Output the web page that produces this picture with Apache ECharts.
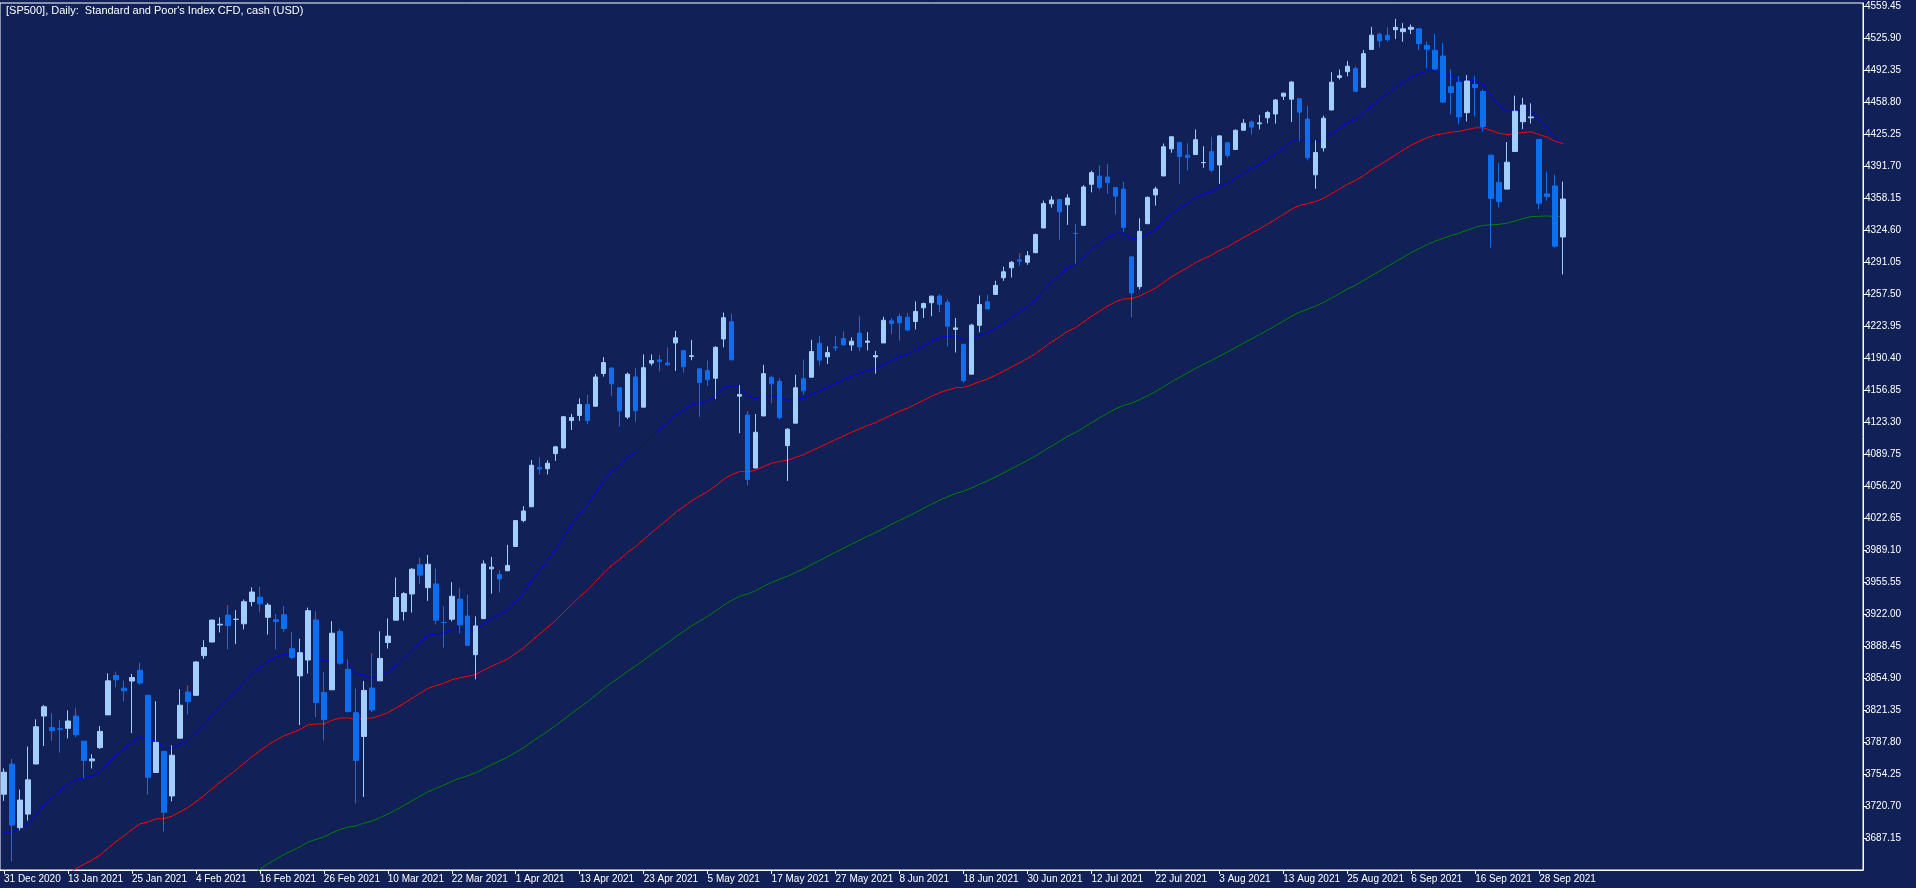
<!DOCTYPE html>
<html>
<head>
<meta charset="utf-8">
<script src="https://cdn.jsdelivr.net/npm/echarts@6/dist/echarts.min.js"></script>
<style>
html,body{margin:0;padding:0;background:#112056;}
#box{width:1916px;height:888px;}
</style>
</head>
<body>
<div id="box"></div>
<script>
// daily bars, Dec 31 2020 .. Oct 1 2021 (CFD also prints on US holidays)
var dates = ['2020-12-31','2021-01-04','2021-01-05','2021-01-06','2021-01-07','2021-01-08','2021-01-11','2021-01-12','2021-01-13','2021-01-14','2021-01-15','2021-01-18','2021-01-19','2021-01-20','2021-01-21','2021-01-22','2021-01-25','2021-01-26','2021-01-27','2021-01-28','2021-01-29',
'2021-02-01','2021-02-02','2021-02-03','2021-02-04','2021-02-05','2021-02-08','2021-02-09','2021-02-10','2021-02-11','2021-02-12','2021-02-15','2021-02-16','2021-02-17','2021-02-18','2021-02-19','2021-02-22','2021-02-23','2021-02-24','2021-02-25','2021-02-26',
'2021-03-01','2021-03-02','2021-03-03','2021-03-04','2021-03-05','2021-03-08','2021-03-09','2021-03-10','2021-03-11','2021-03-12','2021-03-15','2021-03-16','2021-03-17','2021-03-18','2021-03-19','2021-03-22','2021-03-23','2021-03-24','2021-03-25','2021-03-26','2021-03-29','2021-03-30','2021-03-31',
'2021-04-01','2021-04-02','2021-04-05','2021-04-06','2021-04-07','2021-04-08','2021-04-09','2021-04-12','2021-04-13','2021-04-14','2021-04-15','2021-04-16','2021-04-19','2021-04-20','2021-04-21','2021-04-22','2021-04-23','2021-04-26','2021-04-27','2021-04-28','2021-04-29','2021-04-30',
'2021-05-03','2021-05-04','2021-05-05','2021-05-06','2021-05-07','2021-05-10','2021-05-11','2021-05-12','2021-05-13','2021-05-14','2021-05-17','2021-05-18','2021-05-19','2021-05-20','2021-05-21','2021-05-24','2021-05-25','2021-05-26','2021-05-27','2021-05-28','2021-05-31',
'2021-06-01','2021-06-02','2021-06-03','2021-06-04','2021-06-07','2021-06-08','2021-06-09','2021-06-10','2021-06-11','2021-06-14','2021-06-15','2021-06-16','2021-06-17','2021-06-18','2021-06-21','2021-06-22','2021-06-23','2021-06-24','2021-06-25','2021-06-28','2021-06-29','2021-06-30',
'2021-07-01','2021-07-02','2021-07-05','2021-07-06','2021-07-07','2021-07-08','2021-07-09','2021-07-12','2021-07-13','2021-07-14','2021-07-15','2021-07-16','2021-07-19','2021-07-20','2021-07-21','2021-07-22','2021-07-23','2021-07-26','2021-07-27','2021-07-28','2021-07-29','2021-07-30',
'2021-08-02','2021-08-03','2021-08-04','2021-08-05','2021-08-06','2021-08-09','2021-08-10','2021-08-11','2021-08-12','2021-08-13','2021-08-16','2021-08-17','2021-08-18','2021-08-19','2021-08-20','2021-08-23','2021-08-24','2021-08-25','2021-08-26','2021-08-27','2021-08-30','2021-08-31',
'2021-09-01','2021-09-02','2021-09-03','2021-09-06','2021-09-07','2021-09-08','2021-09-09','2021-09-10','2021-09-13','2021-09-14','2021-09-15','2021-09-16','2021-09-17','2021-09-20','2021-09-21','2021-09-22','2021-09-23','2021-09-24','2021-09-27','2021-09-28','2021-09-29','2021-09-30','2021-10-01'];

var open = [3733,3764.6,3698,3712.2,3764.7,3815,3803,3801.6,3802.2,3815,3788.7,3768,3781.9,3816.2,3857.5,3844.2,3851.7,3863,3836.8,3755.8,3778,
3731.2,3791.8,3840.3,3836.7,3878.3,3892.6,3910.5,3920.8,3916.4,3911.7,3935,3939.6,3918.5,3915.9,3921.2,3885.6,3857.1,3873.7,3915.8,3839.7,
3842.5,3903.6,3864,3818.5,3793.6,3844.4,3851.9,3892,3915.5,3924.5,3943,3973.6,3949.6,3953.5,3913.1,3916.5,3937.6,3919.9,3879.3,3917.1,3969.3,3963.3,3967.3,
3992.8,4020,4034.4,4075.6,4074.3,4090,4096.1,4124.7,4130.1,4141.6,4139.8,4174.1,4179.8,4159.2,4128.4,4170.5,4138.8,4185,4188.3,4185.1,4206.1,4198.1,
4192,4179,4177.1,4169.1,4210.3,4228.3,4150.3,4130.6,4075,4129.6,4169.9,4165.9,4098.5,4122,4168.6,4170.2,4205.9,4191.6,4201.9,4210.8,4204,
4216.5,4206.8,4191.4,4206.1,4229.3,4233.8,4233,4228.6,4242.9,4248.3,4255.3,4248.9,4220.4,4204.8,4173.4,4224.6,4249.3,4257,4274.5,4284.9,4293.2,4290.7,
4300.7,4326.6,4352,4356.5,4351,4321.1,4329.4,4372.4,4381.1,4380.1,4369,4367.4,4296.4,4265.1,4331.1,4361.3,4381.2,4409.6,4416.4,4403,4403.6,4395.1,
4406.9,4392.7,4416,4408.9,4429.1,4437.8,4435.8,4442.2,4446.1,4464.8,4461.7,4462.1,4440.9,4382.4,4410.6,4450.3,4484.4,4490.5,4493.8,4474.1,4513.8,4529.8,
4528.8,4534.5,4532.4,4535,4535.4,4518.1,4513,4506.9,4474.8,4479.3,4447.5,4477.1,4469.7,4403,4374.5,4367.4,4406.8,4438,4442.1,4419.5,4362.4,4370.7,4317.2];

var high = [3760.2,3770,3737.8,3783,3811.6,3826.7,3817.9,3810.8,3821,3823.6,3788.7,3775,3804.5,3859.8,3861.5,3852.3,3859.2,3870.9,3836.8,3830.5,3778,
3784.3,3843.1,3847.5,3872.4,3894.6,3915.8,3918.4,3931.5,3926,3937.2,3950,3950.4,3933.6,3922,3930.4,3902.9,3896,3928.7,3925,3861.1,
3914.5,3906.4,3874.5,3843.7,3851.7,3881.1,3903.8,3917.4,3960.3,3945,3970.1,3981,3983.9,3969.6,3930.1,3955.3,3949.1,3942.1,3919.5,3978.2,3981.8,3968,3994.4,
4020.6,4035,4083.4,4086.2,4083.1,4098.2,4129.5,4131.8,4148,4151.7,4173.5,4191.3,4180.8,4159.2,4175,4179.6,4194.2,4194.2,4193.4,4201.5,4218.8,4198.1,
4209.4,4179,4187.7,4202.7,4238,4236.4,4162,4134.7,4131.6,4183.1,4171.9,4169.2,4116.9,4172.8,4188.7,4209.5,4213.4,4202.6,4213.4,4218.4,4212,
4234.1,4217.4,4197.8,4233.5,4232.3,4236.7,4237.1,4249.7,4248.4,4255.6,4257.2,4251.9,4232.3,4204.8,4226.2,4255.8,4256.6,4271.3,4286.1,4292.1,4300.5,4302.4,
4320.7,4355.4,4360,4356.5,4361.9,4330.9,4371.6,4386.7,4392.4,4393.7,4369,4375.1,4296.4,4336.8,4359.7,4369.9,4415.2,4422.7,4416.4,4415.5,4430,4412.3,
4422.2,4423.8,4416.2,4429.8,4440.8,4439.4,4445.2,4449.4,4461.8,4468.4,4480.3,4462.1,4454.3,4418.6,4444.4,4489.9,4492.8,4501.7,4495.9,4513.3,4537.4,4531.4,
4537.1,4545.9,4541.5,4540,4535.4,4521.8,4529.9,4520.5,4493,4485.7,4486.9,4485.9,4471.5,4403,4394.9,4416.8,4465.4,4463.1,4457.3,4419.5,4385.6,4382.6,4375.2];

var low = [3726,3662.7,3695.1,3705.3,3764.7,3783.6,3789,3776.5,3791.5,3792.9,3749.6,3760,3780.4,3816.2,3845.1,3830.4,3797.2,3847.8,3732.5,3755.8,3694.1,
3725.6,3791.8,3816.7,3836.7,3874.9,3892.6,3902.6,3884.9,3890.4,3905.8,3930,3923.9,3900.4,3885,3903.1,3874.7,3805.6,3859.6,3814,3789.5,
3842.5,3868.6,3818.9,3723.3,3730.2,3819.3,3851.9,3885.7,3915.5,3915.2,3923.5,3953.4,3935.7,3910.9,3886.8,3914.2,3901.6,3889.1,3853.5,3917.1,3943.3,3944.4,3967,
3992.8,4018,4034.4,4068.1,4068.3,4082.5,4095.5,4114.8,4124.4,4120.9,4139.8,4170.8,4150.5,4118.4,4126.4,4123.7,4138.8,4182.4,4176.2,4181.8,4176.8,4174.9,
4188,4128.6,4160.9,4147.3,4201.6,4188.1,4111.5,4056.9,4075,4129.6,4142.7,4126,4061.4,4122,4151.7,4170.2,4182.5,4184.1,4197.8,4203.6,4198,
4197.6,4198.3,4173.9,4206.1,4215.7,4208.4,4218.7,4220.3,4232.3,4234.1,4238.4,4202.5,4196.1,4164.4,4173.4,4217.3,4241.4,4257,4271.2,4274.7,4287,4288,
4300.7,4326.6,4348,4314.4,4329.8,4289.4,4329.4,4364,4366.9,4362.4,4340.7,4322.5,4233.1,4262.1,4331.1,4350.1,4381.2,4405.5,4372.5,4387,4403.6,4389.7,
4384.8,4373,4400.2,4408.9,4429.1,4424.7,4430,4436.4,4436,4460.8,4437.7,4417.8,4397.6,4367.7,4406.8,4450.3,4482.3,4485.7,4469,4474.1,4513.8,4515.8,
4522,4524.7,4521.9,4530,4513,4494,4492.1,4457.7,4445.7,4435.5,4438.4,4443.8,4427.8,4305.9,4348,4367.4,4406.8,4430.3,4436.2,4346.3,4355.1,4306.2,4278];

var close = [3756.1,3700.7,3726.9,3748.1,3803.8,3824.7,3799.6,3801.2,3809.8,3795.5,3768.3,3770,3798.9,3851.9,3853.1,3841.5,3855.4,3849.6,3750.8,3787.4,3714.2,
3773.9,3826.3,3830.2,3871.7,3886.8,3915.6,3911.2,3909.9,3916.4,3934.8,3945,3932.6,3931.3,3914,3906.7,3876.5,3881.4,3925.4,3829.3,3811.2,
3901.8,3870.3,3819.7,3768.5,3841.9,3821.4,3875.4,3898.8,3939.3,3943.3,3968.9,3962.7,3974.1,3915.5,3913.1,3940.6,3910.5,3889.1,3909.5,3974.5,3971.1,3958.6,3972.9,
4019.9,4030,4077.9,4073.9,4080,4097.2,4128.8,4128,4141.6,4124.7,4170.4,4185.5,4163.3,4134.9,4173.4,4135,4180.2,4187.6,4186.7,4183.2,4211.5,4181.2,
4192.7,4164.7,4167.6,4201.6,4232.6,4188.4,4152.1,4063,4112.5,4173.9,4163.3,4127.8,4115.7,4159.1,4155.9,4197.1,4188.1,4196,4200.9,4204.1,4208,
4202,4208.1,4192.9,4229.9,4226.5,4227.3,4219.6,4239.2,4247.4,4255.2,4246.6,4223.7,4221.9,4166.5,4224.8,4246.4,4241.8,4266.5,4280.7,4290.6,4291.8,4297.5,
4319.9,4352.3,4356,4343.5,4358.1,4320.8,4369.6,4384.6,4369.2,4374.3,4360,4327.2,4258.5,4323.1,4358.7,4367.5,4411.8,4422.3,4401.5,4400.6,4419.2,4395.3,
4387.2,4423.2,4402.7,4429.1,4436.5,4432.4,4436.8,4447.7,4460.8,4468,4479.7,4448.1,4400.3,4405.8,4441.7,4479.5,4486.2,4496.2,4470,4509.4,4528.8,4522.7,
4524.1,4537,4535.4,4537,4520,4514.1,4493.3,4458.6,4468.7,4443.1,4480.7,4473.8,4433,4357.7,4354.2,4395.6,4449,4455.5,4443.1,4352.6,4359.5,4307.5,4357];

var maPeriods = [20, 50, 100];
var maSeeds = [3693, 3600, 3490];
var maColors = ['#0000ff', '#ff0000', '#008000'];

var months = ['Jan','Feb','Mar','Apr','May','Jun','Jul','Aug','Sep','Oct','Nov','Dec'];

function ema(src, period, seed) {
    var k = 2 / (period + 1), out = [], v = seed;
    for (var i = 0; i < src.length; i++) {
        v = i === 0 ? seed : v + (src[i] - v) * k;
        out.push(+v.toFixed(2));
    }
    return out;
}

var candles = dates.map(function (d, i) {
    return [open[i], close[i], low[i], high[i]];
});

var chart = echarts.init(document.getElementById('box'));

var series = [{
    type: 'candlestick',
    data: candles,
    barWidth: 5,
    itemStyle: {
        color: '#a3cdfa',
        color0: '#0d6ef0',
        borderColor: '#a3cdfa',
        borderColor0: '#0d6ef0',
        borderWidth: 1
    },
    silent: true,
    z: 3
}];
maPeriods.forEach(function (p, j) {
    series.push({
        type: 'line',
        data: ema(close, p, maSeeds[j]),
        showSymbol: false,
        lineStyle: {color: maColors[j], width: 1},
        silent: true,
        z: 2
    });
});

// date label every 8 bars, only where there is a bar
function every8(i) { return i % 8 === 0 && i < dates.length; }

var step = 33.55;
chart.setOption({
    backgroundColor: '#112056',
    animation: false,
    grid: {left: 0, right: 53, top: 3, bottom: 18, show: true, borderColor: '#ffffff', borderWidth: 1, backgroundColor: 'transparent'},
    graphic: [{
        type: 'text', left: 6, top: 5,
        style: {text: "[SP500], Daily:  Standard and Poor's Index CFD, cash (USD)", fill: '#ffffff', font: '11px "Liberation Sans"'}
    }],
    xAxis: {
        type: 'category',
        data: dates,
        max: 232,
        boundaryGap: true,
        axisLine: {lineStyle: {color: '#ffffff'}},
        axisTick: {show: true, interval: every8, length: 4, alignWithLabel: true, lineStyle: {color: '#ffffff'}},
        axisLabel: {
            interval: every8, color: '#ffffff', fontFamily: 'Liberation Sans', fontSize: 10, align: 'left', margin: 4,
            formatter: function (v) {
                if (!v || v.indexOf('-') < 0) return '';
                var p = v.split('-');
                return (+p[2]) + ' ' + months[+p[1] - 1] + ' ' + p[0];
            }
        },
        splitLine: {show: false}
    },
    yAxis: {
        type: 'value',
        position: 'right',
        scale: true,
        min: 4559.45 - 27 * step,
        max: 4562.5,
        interval: step,
        axisLine: {show: true, lineStyle: {color: '#ffffff'}},
        axisTick: {show: true, length: 4, inside: false, lineStyle: {color: '#ffffff'}},
        axisLabel: {
            color: '#ffffff', fontFamily: 'Liberation Sans', fontSize: 10, margin: 2,
            showMinLabel: false, showMaxLabel: false,
            formatter: function (v) { return v.toFixed(2); }
        },
        splitLine: {show: false}
    },
    series: series
});
</script>
</body>
</html>
